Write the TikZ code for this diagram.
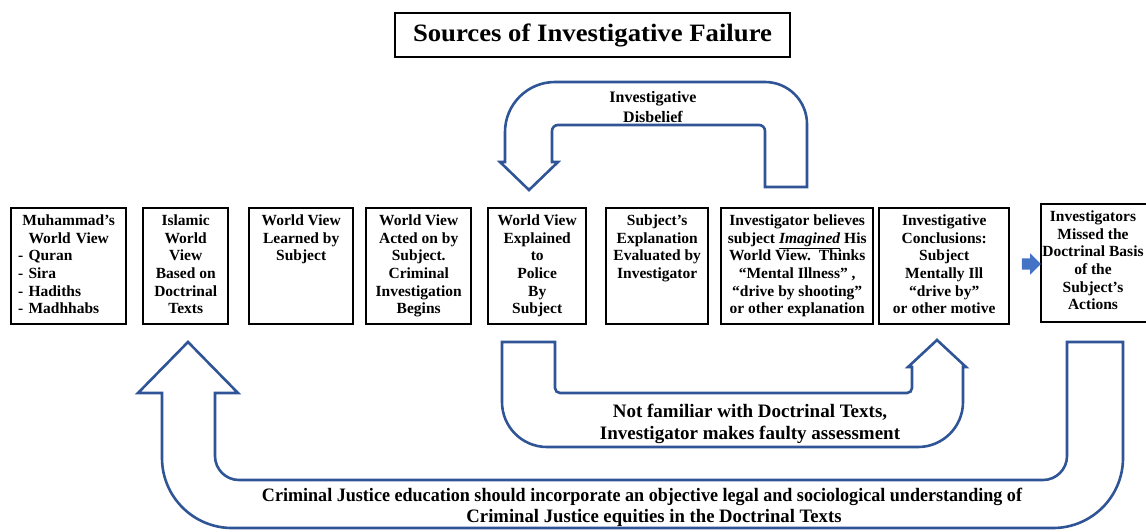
\documentclass[tikz,border=0pt]{standalone}
\usepackage{fontspec}
\usepackage{graphicx}
\setmainfont{Liberation Serif}
\usetikzlibrary{shapes.arrows}
\definecolor{outlineblue}{RGB}{47,85,151}
\definecolor{fillblue}{RGB}{68,114,196}

\begin{document}
\begin{tikzpicture}[x=1pt,y=-1pt,
  stagebox/.style={draw=black, line width=2.4pt, anchor=north west, inner sep=0pt},
  stagetext/.style={anchor=north, align=center, inner sep=0pt,
    font=\bfseries\fontsize{15.5}{17.7}\selectfont},
  uturn/.style={draw=outlineblue, line width=2.6pt, line join=miter},
  note/.style={inner sep=0pt, align=center},
]
\useasboundingbox (0,0) rectangle (1146,531);

% title
\node[draw=black, line width=2.4pt, minimum width=395pt, minimum height=44pt, inner sep=0pt]
  (title) at (592.5,35)
  {\resizebox{359pt}{\height}{\bfseries\fontsize{25}{30}\selectfont Sources of Investigative Failure}};

% stage boxes
\node[stagebox, minimum width=115pt, minimum height=116pt] (b1) at (10,207) {};
\node[stagebox, minimum width=85pt,  minimum height=116pt] (b2) at (142,207) {};
\node[stagebox, minimum width=104pt, minimum height=116pt] (b3) at (248,207) {};
\node[stagebox, minimum width=105pt, minimum height=116pt] (b4) at (365,207) {};
\node[stagebox, minimum width=98pt,  minimum height=116pt] (b5) at (487,207) {};
\node[stagebox, minimum width=102pt, minimum height=116pt] (b6) at (605,207) {};
\node[stagebox, minimum width=152pt, minimum height=116pt] (b7) at (720,207) {};
\node[stagebox, minimum width=130pt, minimum height=116pt] (b8) at (878,207) {};
\node[stagebox, minimum width=115pt, minimum height=118pt] (b9) at (1040,203) {};

% stage texts
\node[stagetext, text width=101pt, align=left] (t1) at ([yshift=-7.5pt]b1.north)
  {\makebox[101pt]{Muhammad’s}\\\makebox[101pt]{World View}\\- Quran\\- Sira\\- Hadiths\\- Madhhabs};
\node[stagetext] (t2) at ([yshift=-7.5pt]b2.north) {Islamic\\World\\View\\Based on\\Doctrinal\\Texts};
\node[stagetext] (t3) at ([yshift=-7.5pt]b3.north) {World View\\Learned by\\Subject};
\node[stagetext] (t4) at ([yshift=-7.5pt]b4.north) {World View\\Acted on by\\Subject.\\Criminal\\Investigation\\Begins};
\node[stagetext] (t5) at ([yshift=-7.5pt]b5.north) {World View\\Explained\\to\\Police\\By\\Subject};
\node[stagetext] (t6) at ([yshift=-7.5pt]b6.north) {Subject’s\\Explanation\\Evaluated by\\Investigator};
\node[stagetext] (t7) at ([yshift=-7.5pt]b7.north)
  {Investigator believes\\subject \underline{\textit{Imagined}} His\\World View.\ \ Thinks\\“Mental Illness” ,\\“drive by shooting”\\or other explanation};
\node[stagetext] (t8) at ([yshift=-7.5pt]b8.north) {Investigative\\Conclusions:\\Subject\\Mentally Ill\\“drive by”\\or other motive};
\node[stagetext] (t9) at (1093,210.5) {Investigators\\Missed the\\Doctrinal Basis\\of the\\Subject’s\\Actions};

% small block arrow between the last two stages
\node[single arrow, fill=fillblue, draw=none, inner sep=5.5pt, minimum height=19pt,
  single arrow head extend=5pt] (flow) at (1028.5,264) {};

% feedback loop over the boxes
\draw[uturn] (529,190) -- (558,162) -- (552,162) -- (552,131)
  arc[start angle=180, end angle=270, radius=6] -- (759,125)
  arc[start angle=270, end angle=360, radius=6] -- (765,187) -- (807,187) -- (807,124)
  arc[start angle=0, end angle=-90, radius=42] -- (555,82)
  arc[start angle=270, end angle=180, radius=50] -- (505,162) -- (500,162) -- cycle;
\node[note, font=\bfseries\fontsize{16}{19.5}\selectfont] (disbelief) at (653,107)
  {Investigative\\Disbelief};

% loop under the boxes, middle
\draw[uturn] (502,342) -- (555,342) -- (555,388)
  arc[start angle=180, end angle=90, radius=5] -- (907,393)
  arc[start angle=90, end angle=0, radius=5] -- (912,367) -- (908,367) -- (937,340)
  -- (966,367) -- (963,367) -- (963,402)
  arc[start angle=0, end angle=90, radius=45] -- (547,447)
  arc[start angle=90, end angle=180, radius=45] -- cycle;
\node[note, font=\bfseries\fontsize{19}{21.5}\selectfont] (assess) at (750,424)
  {Not familiar with Doctrinal Texts,\\Investigator makes faulty assessment};

% large loop under everything
\draw[uturn] (188,342) -- (238,393) -- (215,393) -- (215,456)
  arc[start angle=180, end angle=90, radius=24] -- (1043,480)
  arc[start angle=90, end angle=0, radius=24] -- (1067,342) -- (1123,342) -- (1123,458)
  arc[start angle=0, end angle=90, radius=70] -- (232,528)
  arc[start angle=90, end angle=180, radius=70] -- (162,393) -- (138,393) -- cycle;
\node[note, font=\bfseries\fontsize{19}{21}\selectfont] (edu1) at (642,497)
  {\resizebox{760pt}{\height}{Criminal Justice education should incorporate an objective legal and sociological understanding of}};
\node[note, font=\bfseries\fontsize{19}{21}\selectfont] (edu2) at (654,518)
  {\resizebox{375pt}{\height}{Criminal Justice equities in the Doctrinal Texts}};
\end{tikzpicture}
\end{document}
